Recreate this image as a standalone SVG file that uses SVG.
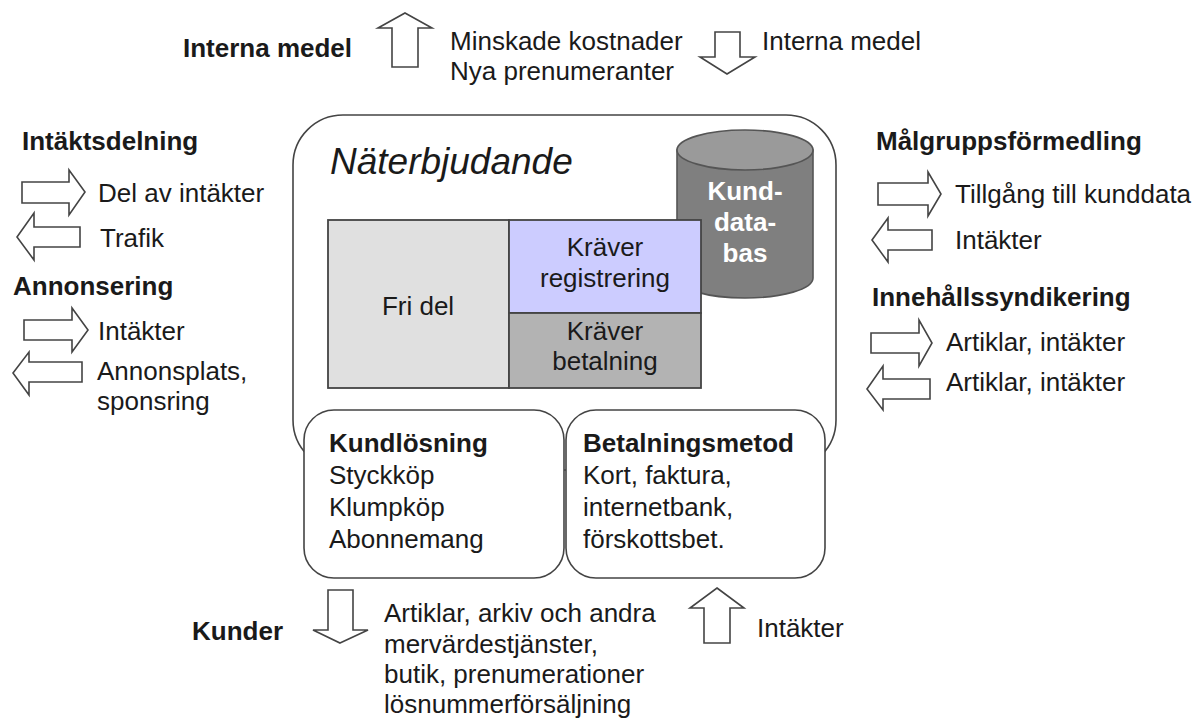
<svg xmlns="http://www.w3.org/2000/svg" width="1198" height="719" viewBox="0 0 1198 719">
<style>
text{font-family:"Liberation Sans",Arial,sans-serif;font-size:26px;fill:#1a1a1a}
.b{font-weight:bold}
.c{text-anchor:middle}
.w{fill:#fff;font-weight:bold}
.arr{fill:#fff;stroke:#444;stroke-width:1.6;stroke-linejoin:miter}
.box{fill:#fff;stroke:#444;stroke-width:1.6}
</style>
<rect width="1198" height="719" fill="#fff"/>
<g id="connectors">
<polygon class="arr" points="405,13 432,28 418,28 418,67 392,67 392,28 378,28"/>
<polygon class="arr" points="727,74 755,57 740,57 740,32 715,32 715,57 700,57"/>
<polygon class="arr" points="22,182 69,182 69,170 85,192 69,215 69,203 22,203"/>
<polygon class="arr" points="17,237 34,213 34,227 80,227 80,247 34,247 34,260"/>
<polygon class="arr" points="24,320 72,320 72,308 88,330 72,352 72,340 24,340"/>
<polygon class="arr" points="13,373 29,352 29,362 82,362 82,382 29,382 29,395"/>
<polygon class="arr" points="878,183 928,183 928,172 941,194 928,216 928,205 878,205"/>
<polygon class="arr" points="872,240 888,218 888,230 932,230 932,250 888,250 888,262"/>
<polygon class="arr" points="871,333 919,333 919,320 932,343 919,366 919,353 871,353"/>
<polygon class="arr" points="867,389 883,366 883,379 930,379 930,399 883,399 883,410"/>
<polygon class="arr" points="340,643 368,630 353,630 353,590 328,590 328,630 313,630"/>
<polygon class="arr" points="717,588 744,608 730,608 730,643 704,643 704,608 690,608"/>
</g>
<g id="top">
<text class="b" x="183" y="57">Interna medel</text>
<text x="450" y="50">Minskade kostnader</text>
<text x="450" y="80">Nya prenumeranter</text>
<text x="762" y="50">Interna medel</text>
</g>
<g id="left">
<text class="b" x="22" y="150">Intäktsdelning</text>
<text x="98" y="202">Del av intäkter</text>
<text x="100" y="247">Trafik</text>
<text class="b" x="13" y="295">Annonsering</text>
<text x="98" y="340">Intäkter</text>
<text x="97" y="380">Annonsplats,</text>
<text x="97" y="410">sponsring</text>
</g>
<g id="right">
<text class="b" x="876" y="150">Målgruppsförmedling</text>
<text x="955" y="203">Tillgång till kunddata</text>
<text x="955" y="249">Intäkter</text>
<text class="b" x="872" y="306">Innehållssyndikering</text>
<text x="946" y="351">Artiklar, intäkter</text>
<text x="946" y="391">Artiklar, intäkter</text>
</g>
<g id="naterbjudande">
<rect class="box" x="293" y="115" width="543" height="355" rx="50"/>
<text x="330" y="174" style="font-style:italic;font-size:37px">Näterbjudande</text>
</g>
<g id="kunddatabas">
<path d="M677,150 L677,278 A68,20 0 0 0 813,278 L813,150 Z" fill="#7f7f7f" stroke="#555" stroke-width="1.6"/>
<ellipse cx="745" cy="150" rx="68" ry="20" fill="#9a9a9a" stroke="#555" stroke-width="1.6"/>
<text class="w c" x="745" y="200">Kund-</text>
<text class="w c" x="745" y="231">data-</text>
<text class="w c" x="745" y="262">bas</text>
</g>
<g id="fridel">
<rect x="328" y="220" width="181" height="168" fill="#e0e0e0" stroke="#444" stroke-width="1.8"/>
<text class="c" x="418" y="315">Fri del</text>
</g>
<g id="registrering">
<rect x="509" y="220" width="192" height="93" fill="#ccccff" stroke="#444" stroke-width="1.8"/>
<text class="c" x="605" y="256">Kräver</text>
<text class="c" x="605" y="287">registrering</text>
</g>
<g id="betalning">
<rect x="509" y="313" width="192" height="75" fill="#b3b3b3" stroke="#444" stroke-width="1.8"/>
<text class="c" x="605" y="340">Kräver</text>
<text class="c" x="605" y="370">betalning</text>
</g>
<g id="kundlosning">
<rect class="box" x="304" y="410" width="260" height="168" rx="30"/>
<text class="b" x="329" y="452">Kundlösning</text>
<text x="329" y="484">Styckköp</text>
<text x="329" y="516">Klumpköp</text>
<text x="329" y="548">Abonnemang</text>
</g>
<g id="betalningsmetod">
<rect class="box" x="566" y="410" width="259" height="168" rx="30"/>
<text class="b" x="583" y="452">Betalningsmetod</text>
<text x="583" y="484">Kort, faktura,</text>
<text x="583" y="516">internetbank,</text>
<text x="583" y="548">förskottsbet.</text>
</g>
<g id="bottom">
<text class="b" x="192" y="640">Kunder</text>
<text x="384" y="622">Artiklar, arkiv och andra</text>
<text x="384" y="653">mervärdestjänster,</text>
<text x="384" y="683">butik, prenumerationer</text>
<text x="384" y="713">lösnummerförsäljning</text>
<text x="757" y="637">Intäkter</text>
</g>
</svg>
